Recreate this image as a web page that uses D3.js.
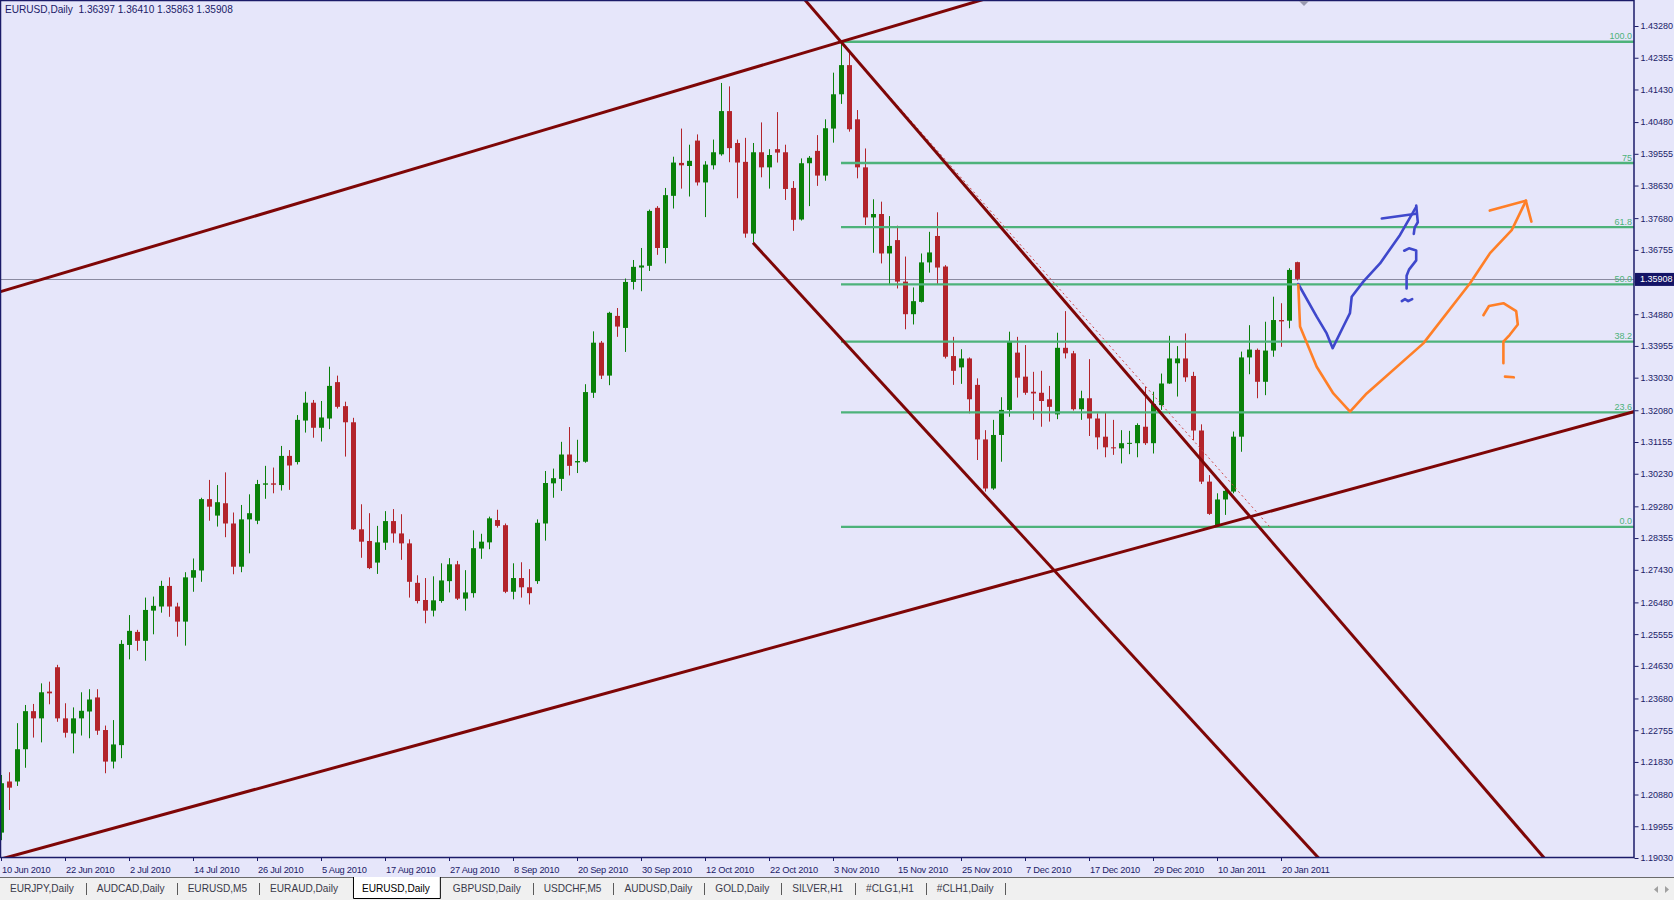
<!DOCTYPE html>
<html><head><meta charset="utf-8">
<script src="https://cdn.jsdelivr.net/npm/d3@7/dist/d3.min.js"></script>
<style>
html,body{margin:0;padding:0;background:#E6E6FA;overflow:hidden;}
svg{display:block;font-family:"Liberation Sans",Arial,sans-serif;}
</style></head><body>
<svg id="chart" width="1674" height="900"></svg>
<script>
// ---------------- DATA ----------------
const symbolTitle = "EURUSD,Daily";
const lastBarOHLC = ["1.36397","1.36410","1.35863","1.35908"];
const currentPrice = 1.35908;

const opens = [1.1977,1.2126,1.2126,1.2220,1.2331,1.2310,1.2388,1.2459,1.2310,1.2266,
1.2310,1.2330,1.2371,1.2276,1.2184,1.2232,1.2524,1.2562,1.2536,1.2624,
1.2636,1.2696,1.2636,1.2592,1.2720,1.2741,1.2949,1.2901,1.2937,1.2878,
1.2752,1.2890,1.2886,1.2991,1.2995,1.2990,1.3075,1.3057,1.3178,1.3230,
1.3157,1.3184,1.3290,1.3220,1.3173,1.2861,1.2827,1.2764,1.2822,1.2885,
1.2849,1.2820,1.2705,1.2655,1.2624,1.2652,1.2710,1.2759,1.2659,1.2675,
1.2805,1.2823,1.2888,1.2873,1.2679,1.2719,1.2692,1.2710,1.2878,1.2995,
1.3008,1.3079,1.3056,1.3058,1.3259,1.3405,1.3309,1.3483,1.3448,1.3582,
1.3624,1.3629,1.3798,1.3681,1.3833,1.3929,1.3920,1.3994,1.3872,1.3922,
1.3954,1.4080,1.3987,1.3932,1.3723,1.3960,1.3916,1.3969,1.3960,1.3856,
1.3764,1.3928,1.3964,1.3892,1.4029,1.4129,1.4214,1.4056,1.3916,1.3770,
1.3780,1.3665,1.3704,1.3583,1.3488,1.3524,1.3639,1.3716,1.3627,1.3366,
1.3333,1.3359,1.3282,1.3123,1.2980,1.3136,1.3209,1.3376,1.3306,1.3262,
1.3259,1.3240,1.3196,1.3390,1.3374,1.3211,1.3243,1.3184,1.3131,1.3100,
1.3097,1.3110,1.3112,1.3160,1.3112,1.3223,1.3286,1.3345,1.3359,1.3308,
1.3149,1.3000,1.2873,1.2948,1.2971,1.3131,1.3362,1.3384,1.3291,1.3382,
1.3471,1.3469,1.36397];

const highs = [1.2145,1.2153,1.2296,1.2349,1.2352,1.2412,1.2417,1.2466,1.2354,1.2342,
1.2386,1.2395,1.2395,1.2289,1.2305,1.2538,1.2611,1.2568,1.2662,1.2665,
1.2711,1.2721,1.2647,1.2736,1.2776,1.2953,1.3005,1.2990,1.3027,1.2910,
1.2932,1.2963,1.3005,1.3046,1.3041,1.3104,1.3092,1.3194,1.3262,1.3238,
1.3235,1.3335,1.3309,1.3233,1.3186,1.2934,1.2908,1.2871,1.2914,1.2920,
1.2905,1.2832,1.2727,1.2719,1.2724,1.2762,1.2777,1.2769,1.2742,1.2858,
1.2848,1.2898,1.2918,1.2878,1.2762,1.2765,1.2745,1.2890,1.3031,1.3038,
1.3116,1.3159,1.3122,1.3284,1.3438,1.3410,1.3495,1.3506,1.3592,1.3646,
1.3681,1.3793,1.3803,1.3856,1.3947,1.4029,1.3982,1.4012,1.3934,1.3997,
1.4162,1.4152,1.3997,1.4002,1.3987,1.4047,1.3969,1.4077,1.3982,1.3876,
1.3942,1.3949,1.4010,1.4056,1.4192,1.4282,1.4253,1.4083,1.3971,1.3823,
1.3816,1.3774,1.3746,1.3656,1.3566,1.3665,1.3728,1.3785,1.3631,1.3422,
1.3386,1.3362,1.3301,1.3150,1.3180,1.3246,1.3437,1.3422,1.3398,1.3320,
1.3323,1.3279,1.3434,1.3497,1.3381,1.3265,1.3357,1.3199,1.3201,1.3180,
1.3150,1.3148,1.3170,1.3277,1.3262,1.3315,1.3425,1.3395,1.3432,1.3320,
1.3167,1.3019,1.2966,1.2985,1.3146,1.3379,1.3456,1.3388,1.3466,1.3539,
1.3520,1.3622,1.36410];

const lows = [1.1955,1.2043,1.2113,1.2166,1.2254,1.2240,1.2351,1.2300,1.2254,1.2208,
1.2260,1.2252,1.2262,1.2150,1.2164,1.2194,1.2482,1.2507,1.2478,1.2555,
1.2618,1.2606,1.2548,1.2522,1.2679,1.2708,1.2886,1.2869,1.2838,1.2730,
1.2736,1.2791,1.2876,1.2950,1.2966,1.2974,1.2976,1.3050,1.3143,1.3128,
1.3117,1.3153,1.3213,1.3073,1.2859,1.2778,1.2745,1.2731,1.2801,1.2822,
1.2772,1.2662,1.2645,1.2587,1.2607,1.2647,1.2677,1.2655,1.2624,1.2662,
1.2775,1.2803,1.2866,1.2675,1.2657,1.2662,1.2642,1.2702,1.2828,1.2953,
1.2973,1.3018,1.3025,1.3055,1.3244,1.3299,1.3281,1.3422,1.3378,1.3560,
1.3555,1.3614,1.3661,1.3636,1.3796,1.3854,1.3831,1.3863,1.3771,1.3910,
1.3950,1.3931,1.3826,1.3711,1.3696,1.3887,1.3854,1.3930,1.3821,1.3731,
1.3761,1.3803,1.3862,1.3877,1.3988,1.4101,1.4020,1.3884,1.3748,1.3667,
1.3636,1.3573,1.3563,1.3444,1.3458,1.3522,1.3609,1.3576,1.3359,1.3282,
1.3285,1.3199,1.3063,1.2971,1.2976,1.3058,1.3189,1.3245,1.3253,1.3180,
1.3160,1.3175,1.3182,1.3359,1.3207,1.3180,1.3133,1.3094,1.3071,1.3078,
1.3053,1.3080,1.3071,1.3107,1.3082,1.3209,1.3285,1.3248,1.3291,1.3121,
1.2993,1.2903,1.2868,1.2903,1.2966,1.3087,1.3313,1.3243,1.3252,1.3364,
1.3393,1.3447,1.35863];

const closes = [1.2121,1.2108,1.2220,1.2331,1.2310,1.2386,1.2383,1.2310,1.2268,1.2310,
1.2332,1.2365,1.2274,1.2184,1.2234,1.2527,1.2565,1.2536,1.2626,1.2638,
1.2696,1.2636,1.2592,1.2721,1.2742,1.2949,1.2927,1.2940,1.2878,1.2752,
1.2890,1.2908,1.2993,1.2995,1.2991,1.3075,1.3047,1.3180,1.3230,1.3157,
1.3187,1.3279,1.3218,1.3173,1.2861,1.2825,1.2748,1.2823,1.2885,1.2849,
1.2820,1.2708,1.2652,1.2624,1.2654,1.2712,1.2759,1.2659,1.2677,1.2806,
1.2825,1.2893,1.2871,1.2679,1.2719,1.2692,1.2675,1.2880,1.2996,1.3010,
1.3079,1.3046,1.3060,1.3261,1.3405,1.3309,1.3492,1.3452,1.3582,1.3626,
1.3630,1.3789,1.3681,1.3835,1.3930,1.3922,1.3935,1.3872,1.3924,1.3960,
1.4080,1.3972,1.3930,1.3723,1.3960,1.3916,1.3952,1.3959,1.3853,1.3763,
1.3928,1.3944,1.3892,1.4030,1.4129,1.4214,1.4027,1.3916,1.3770,1.3780,
1.3665,1.3687,1.3583,1.3488,1.3526,1.3639,1.3668,1.3624,1.3364,1.3323,
1.3359,1.3240,1.3123,1.2980,1.3136,1.3209,1.3410,1.3303,1.3259,1.3257,
1.3235,1.3218,1.3390,1.3374,1.3211,1.3243,1.3184,1.3129,1.3100,1.3097,
1.3112,1.3113,1.3165,1.3112,1.3226,1.3286,1.3359,1.3359,1.3304,1.3149,
1.3000,1.2906,1.2948,1.2973,1.3131,1.3362,1.3385,1.3291,1.3382,1.3471,
1.3467,1.3617,1.35908];

const priceTicks = [1.43280,1.42355,1.41430,1.40480,1.39555,1.38630,1.37680,1.36755,1.35830,
1.34880,1.33955,1.33030,1.32080,1.31155,1.30230,1.29280,1.28355,1.27430,1.26480,
1.25555,1.24630,1.23680,1.22755,1.21830,1.20880,1.19955,1.19030];

const dateTickBars = [0,8,16,24,32,40,48,56,64,72,80,88,96,104,112,120,128,136,144,152,160];
const dateTickLabels = ["10 Jun 2010","22 Jun 2010","2 Jul 2010","14 Jul 2010","26 Jul 2010",
"5 Aug 2010","17 Aug 2010","27 Aug 2010","8 Sep 2010","20 Sep 2010","30 Sep 2010",
"12 Oct 2010","22 Oct 2010","3 Nov 2010","15 Nov 2010","25 Nov 2010","7 Dec 2010",
"17 Dec 2010","29 Dec 2010","10 Jan 2011","20 Jan 2011"];

// Fibonacci retracement (anchor 1 = high, anchor 2 = low), bar index / price
const fibHighPoint = [105, 1.4282];
const fibLowPoint = [158.6, 1.2868];
const fibLevels = [0, 23.6, 38.2, 50, 61.8, 75, 100];
const fibLabels = ["0.0","23.6","38.2","50.0","61.8","75","100.0"];

// trend lines: two anchor points [bar, price]
const trendUpper = [[0, 1.3554], [105, 1.4282]];
const trendLower = [[0, 1.1900], [152, 1.2871]];
const trendDown1 = [[105, 1.4282], [152, 1.3010]];
const trendDown2 = [[94, 1.3696], [152, 1.2225]];

// hand-drawn annotations [bar, price]
const blueStroke = [[162.16,1.3576],[164.46,1.3481],[165.71,1.3432],[166.46,1.3389],[167.79,1.3452],[168.62,1.3491],[168.84,1.3539],[170.29,1.3583],[172.38,1.3636],[174.88,1.3719],[176.88,1.3800]];
const blueHeadA = [[172.6,1.3767],[176.9,1.3781]];
const blueHeadB = [[176.9,1.3805],[177.1,1.3756],[176.7,1.3740],[176.6,1.3722]];
const blueQuestion = [[175.4,1.3673],[176.0,1.3680],[176.9,1.3674],[176.9,1.3645],[176.0,1.3618],[175.7,1.3600],[175.7,1.3563]];
const blueDot = [[175.1,1.3526],[175.5,1.3532],[175.9,1.3526],[176.4,1.3532]];

const orangeStroke = [[162.16,1.3573],[162.38,1.3452],[164.46,1.3335],[166.54,1.3257],[168.63,1.3204],[170.71,1.3257],[177.79,1.3403],[183.63,1.3578],[186.13,1.3666],[188.84,1.3733],[190.63,1.3819]];
const orangeHeadA = [[186.1,1.3790],[190.6,1.3819],[191.3,1.3758]];
const orangeQuestion = [[185.3,1.3485],[186.0,1.3512],[187.8,1.3520],[189.4,1.3497],[189.6,1.3458],[188.6,1.3428],[187.8,1.3408],[187.8,1.3345]];
const orangeDot = [[188.0,1.3306],[189.1,1.3304]];

const tabNames = ["EURJPY,Daily","AUDCAD,Daily","EURUSD,M5","EURAUD,Daily","EURUSD,Daily",
"GBPUSD,Daily","USDCHF,M5","AUDUSD,Daily","GOLD,Daily","SILVER,H1","#CLG1,H1","#CLH1,Daily"];
const activeTab = 4;

// ---------------- LAYOUT / STYLE ----------------
const W = 1674, H = 900;
const plotL = 1, plotR = 1634, plotT = 1, plotB = 857;
const BG = "#E6E6FA", FG = "#1B1B68";
const UP = "#0A800A", DOWN = "#B3242B";
const FIB = "#4DB27A", TREND = "#7E0606";

const svg = d3.select("#chart");
const x = d3.scaleLinear().domain([0, 204]).range([1, 1633]);   // 8 px per bar
const y = d3.scaleLinear().domain([1.19030, 1.43280]).range([858, 26]);

svg.append("rect").attr("width", W).attr("height", H).attr("fill", BG);

const defs = svg.append("defs");
defs.append("clipPath").attr("id", "plotClip").append("rect")
  .attr("x", plotL).attr("y", plotT).attr("width", plotR - plotL).attr("height", plotB - plotT);

const plot = svg.append("g").attr("clip-path", "url(#plotClip)");

// current price (bid) line
plot.append("line").attr("x1", plotL).attr("x2", plotR)
  .attr("y1", Math.round(y(currentPrice)) + 0.5).attr("y2", Math.round(y(currentPrice)) + 0.5)
  .attr("stroke", "#8A8AA0").attr("stroke-width", 1);

// candles
const bars = opens.map((o, i) => ({ i, o, h: highs[i], l: lows[i], c: closes[i] }));
const cg = plot.append("g");
cg.selectAll("line.wick").data(bars).join("line").attr("class", "wick")
  .attr("x1", d => Math.round(x(d.i)) + 0.5).attr("x2", d => Math.round(x(d.i)) + 0.5)
  .attr("y1", d => y(d.h)).attr("y2", d => y(d.l))
  .attr("stroke", d => d.c >= d.o ? UP : DOWN).attr("stroke-width", 1);
cg.selectAll("rect.body").data(bars).join("rect").attr("class", "body")
  .attr("x", d => Math.round(x(d.i)) - 2).attr("width", 5)
  .attr("y", d => y(Math.max(d.o, d.c)))
  .attr("height", d => Math.max(1, Math.abs(y(d.o) - y(d.c))))
  .attr("fill", d => d.c >= d.o ? UP : DOWN);

// fibonacci levels
const fibRange = fibHighPoint[1] - fibLowPoint[1];
const fibData = fibLevels.map((lv, k) => ({ lv, label: fibLabels[k], p: fibLowPoint[1] + fibRange * lv / 100 }));
const fg = plot.append("g");
fg.selectAll("line").data(fibData).join("line")
  .attr("x1", x(fibHighPoint[0])).attr("x2", plotR)
  .attr("y1", d => y(d.p)).attr("y2", d => y(d.p))
  .attr("stroke", FIB).attr("stroke-width", 2.4);
fg.selectAll("text").data(fibData).join("text")
  .attr("x", plotR - 2).attr("y", d => y(d.p) - 2.5)
  .attr("text-anchor", "end").attr("font-size", 9).attr("fill", FIB)
  .text(d => d.label);

// fib connecting dashed line
plot.append("line")
  .attr("x1", x(fibHighPoint[0])).attr("y1", y(fibHighPoint[1]))
  .attr("x2", x(fibLowPoint[0])).attr("y2", y(fibLowPoint[1]))
  .attr("stroke", "#D04848").attr("stroke-width", 1).attr("stroke-dasharray", "2,3");

// trend lines
function extended(pts, fromStart) {
  const x1 = x(pts[0][0]), y1 = y(pts[0][1]), x2 = x(pts[1][0]), y2 = y(pts[1][1]);
  const m = (y2 - y1) / (x2 - x1);
  const xa = fromStart ? x1 : plotL - 5, xb = plotR + 5;
  return [[xa, y1 + m * (xa - x1)], [xb, y1 + m * (xb - x1)]];
}
const tl = [extended(trendUpper, false), extended(trendLower, false),
            extended(trendDown1, false), extended(trendDown2, true)];
plot.append("g").selectAll("line").data(tl).join("line")
  .attr("x1", d => d[0][0]).attr("y1", d => d[0][1])
  .attr("x2", d => d[1][0]).attr("y2", d => d[1][1])
  .attr("stroke", TREND).attr("stroke-width", 3);

// frame
svg.append("rect").attr("x", 0.5).attr("y", 0.5).attr("width", plotR - 0.5).attr("height", plotB)
  .attr("fill", "none").attr("stroke", FG).attr("stroke-width", 1.5);

// header
svg.append("text").attr("x", 5).attr("y", 13).attr("font-size", 10.1).attr("fill", FG)
  .style("white-space", "pre")
  .text(symbolTitle + "  " + lastBarOHLC.join(" "));

// chart shift marker
svg.append("path").attr("d", "M1299,1 L1309,1 L1304,6 Z").attr("fill", "#9A9AB0");

// right price axis
const yAxis = d3.axisRight(y).tickValues(priceTicks).tickSize(4).tickPadding(2)
  .tickFormat(d3.format(".5f"));
const ya = svg.append("g").attr("transform", `translate(${plotR + 0.5},0)`).call(yAxis);
ya.select(".domain").remove();
ya.selectAll("line").attr("stroke", FG);
ya.selectAll("text").attr("font-size", 9).attr("fill", FG).attr("font-family", "Liberation Sans, Arial, sans-serif");

// current price label
const cpY = y(currentPrice);
svg.append("rect").attr("x", plotR + 1).attr("y", cpY - 6).attr("width", W - plotR - 1).attr("height", 13)
  .attr("fill", "#141466");
svg.append("text").attr("x", plotR + 6).attr("y", cpY + 3.5).attr("font-size", 9).attr("fill", "#FFFFFF")
  .text(d3.format(".5f")(currentPrice));

// bottom time axis
const xa = svg.append("g");
xa.selectAll("line").data(dateTickBars).join("line")
  .attr("x1", d => Math.round(x(d)) + 0.5).attr("x2", d => Math.round(x(d)) + 0.5)
  .attr("y1", plotB).attr("y2", plotB + 4).attr("stroke", FG);
xa.selectAll("text").data(dateTickBars).join("text")
  .attr("x", d => x(d) + 1).attr("y", plotB + 16)
  .attr("font-size", 9.3).attr("letter-spacing", "-0.25px").attr("fill", FG)
  .text((d, k) => dateTickLabels[k]);

// hand drawn annotations
const lineGen = d3.line().x(d => x(d[0])).y(d => y(d[1])).curve(d3.curveLinear);
const ann = svg.append("g").attr("fill", "none").attr("stroke-linecap", "round").attr("stroke-linejoin", "round");
[blueStroke, blueHeadA, blueHeadB, blueQuestion, blueDot].forEach(p =>
  ann.append("path").attr("d", lineGen(p)).attr("stroke", "#3F48CC").attr("stroke-width", 2.6));
[orangeStroke, orangeHeadA, orangeQuestion, orangeDot].forEach(p =>
  ann.append("path").attr("d", lineGen(p)).attr("stroke", "#FF7F27").attr("stroke-width", 2.6));

// tab bar
const tabY = 877;
svg.append("rect").attr("x", 0).attr("y", tabY).attr("width", W).attr("height", H - tabY).attr("fill", "#F0F0F0");
svg.append("line").attr("x1", 0).attr("x2", W).attr("y1", tabY + 0.5).attr("y2", tabY + 0.5).attr("stroke", "#6A6A6A");
const tb = svg.append("g");
let cx = 10;
tabNames.forEach((name, k) => {
  const isActive = k === activeTab;
  if (isActive) {
    const t = tb.append("text").attr("font-size", 10.1).attr("fill", "#000").text(name);
    const w = t.node().getComputedTextLength();
    const boxX = cx;
    tb.insert("path", "text").attr("d", `M${boxX + 0.5},${tabY} V${H - 1.5} H${boxX + w + 19.5} V${tabY}`)
      .attr("fill", "#FFFFFF").attr("stroke", "#000").attr("stroke-width", 1);
    t.attr("x", boxX + 9).attr("y", tabY + 15);
    cx = boxX + w + 19 + 13;
  } else {
    const t = tb.append("text").attr("x", cx).attr("y", tabY + 15).attr("font-size", 10.1).attr("fill", "#3A3A4A").text(name);
    const w = t.node().getComputedTextLength();
    cx += w;
    if (k + 1 !== activeTab) {
      tb.append("line").attr("x1", Math.round(cx + 12) + 0.5).attr("x2", Math.round(cx + 12) + 0.5).attr("y1", tabY + 6).attr("y2", tabY + 18)
        .attr("stroke", "#5A5A5A");
      cx += 23;
    } else {
      cx += 15;
    }
  }
});
// scroll arrows
svg.append("path").attr("d", "M1658,886 L1654,889.5 L1658,893 Z").attr("fill", "#A0A0A0");
svg.append("path").attr("d", "M1665,886 L1669,889.5 L1665,893 Z").attr("fill", "#A0A0A0");
</script>
</body></html>
